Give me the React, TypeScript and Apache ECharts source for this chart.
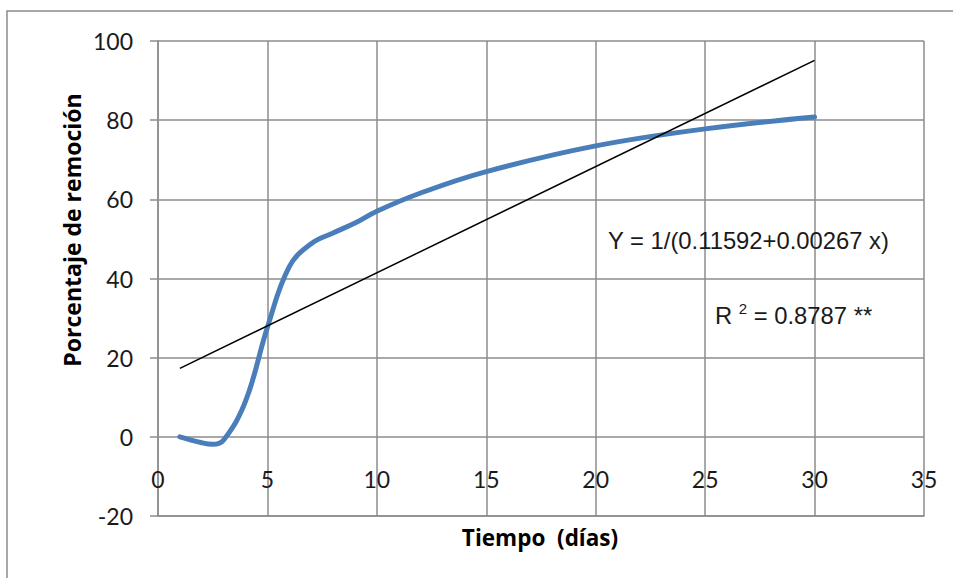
import React, { useEffect, useRef } from "react";
import * as echarts from "echarts";

const curveX = [1, 2, 2.5, 3, 4, 5, 6, 7, 8, 9, 10, 12, 15, 20, 25, 30];
const curveY = [0, -1.5, -1.9, -0.8, 9, 27.7, 43, 48.8, 51.5, 54, 57, 61.6, 67, 73.5, 77.8, 80.8];
const trendX = [1, 30];
const trendY = [17.3, 95.1];
const equationText = "Y = 1/(0.11592+0.00267 x)";
const rSquaredValue = "0.8787 **";
const yAxisTitle = "Porcentaje de remoción";
const xAxisTitle = "Tiempo  (días)";

export default function App() {
  const ref = useRef<HTMLDivElement>(null);
  useEffect(() => {
    if (!ref.current) return;
    const chart = echarts.init(ref.current, null, { renderer: "svg" });
    const gridColor = "#8c8c8c";
    const labelFont = "Lato, 'Open Sans', sans-serif";
    const titleFont = "'Open Sans', Lato, sans-serif";
    const eqFont = "'Liberation Sans', Arial, sans-serif";
    chart.setOption({
      animation: false,
      backgroundColor: "#ffffff",
      grid: { left: 158, right: 29, top: 41, bottom: 62, containLabel: false },
      xAxis: {
        type: "value",
        min: 0,
        max: 35,
        interval: 5,
        axisLine: { show: true, onZero: false, lineStyle: { color: gridColor, width: 1.5 } },
        axisTick: { show: false },
        splitLine: { show: true, lineStyle: { color: gridColor, width: 1.5 } },
        axisLabel: {
          color: "#1a1a1a",
          fontFamily: labelFont,
          fontSize: 23,
          margin: -37,
          verticalAlign: "middle",
          showMinLabel: true,
          showMaxLabel: true,
        },
      },
      yAxis: {
        type: "value",
        min: -20,
        max: 100,
        interval: 20,
        axisLine: { show: true, onZero: false, lineStyle: { color: gridColor, width: 1.5 } },
        axisTick: { show: true, length: 8, lineStyle: { color: gridColor, width: 1.5 } },
        splitLine: { show: true, lineStyle: { color: gridColor, width: 1.5 } },
        axisLabel: {
          color: "#1a1a1a",
          fontFamily: labelFont,
          fontSize: 23,
          margin: 25,
        },
      },
      series: [
        {
          type: "line",
          data: curveX.map((x, i) => [x, curveY[i]]),
          smooth: 0.4,
          showSymbol: false,
          lineStyle: { color: "#4a7ebb", width: 5, cap: "round" },
          z: 3,
        },
        {
          type: "line",
          data: trendX.map((x, i) => [x, trendY[i]]),
          showSymbol: false,
          lineStyle: { color: "#000000", width: 1.5 },
          z: 4,
        },
      ],
      graphic: [
        {
          type: "rect",
          shape: { x: 7, y: 11, width: 1000, height: 1000 },
          style: { fill: "none", stroke: gridColor, lineWidth: 1.5 },
          silent: true,
          z: 0,
        },
        {
          type: "text",
          x: 72,
          y: 230,
          rotation: Math.PI / 2,
          style: {
            text: yAxisTitle,
            fontFamily: titleFont,
            fontWeight: "bold",
            fontSize: 23,
            fill: "#000",
            align: "center",
            verticalAlign: "middle",
          },
          z: 10,
        },
        {
          type: "text",
          x: 540,
          y: 537,
          style: {
            text: xAxisTitle,
            fontFamily: titleFont,
            fontWeight: "bold",
            fontSize: 22.5,
            fill: "#000",
            align: "center",
            verticalAlign: "middle",
          },
          z: 10,
        },
        {
          type: "text",
          x: 608,
          y: 240,
          style: {
            text: equationText,
            fontFamily: eqFont,
            fontSize: 23.8,
            fill: "#1a1a1a",
            align: "left",
            verticalAlign: "middle",
          },
          z: 10,
        },
        {
          type: "text",
          x: 715,
          y: 314,
          style: {
            text: "{r|R }{s|2}{r| = " + rSquaredValue + "}",
            rich: {
              r: { fontFamily: eqFont, fontSize: 23.8, fill: "#1a1a1a", verticalAlign: "bottom", lineHeight: 26 },
              s: { fontFamily: eqFont, fontSize: 15, fill: "#1a1a1a", verticalAlign: "top", lineHeight: 26 },
            },
            align: "left",
            verticalAlign: "middle",
          },
          z: 10,
        },
      ],
    });
    return () => chart.dispose();
  }, []);
  return (
    <div
      ref={ref}
      style={{ position: "fixed", left: 0, top: 0, width: 953, height: 578 }}
    />
  );
}
